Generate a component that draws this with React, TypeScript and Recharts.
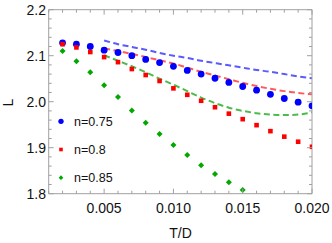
import { ComposedChart, Scatter, Line, XAxis, YAxis } from "recharts";

const T_POINTS = [0.002, 0.003, 0.004, 0.005, 0.006, 0.007, 0.008, 0.009, 0.01, 0.011, 0.012, 0.013, 0.014, 0.015, 0.016, 0.017, 0.018, 0.019, 0.02];
const L_075 = [2.128, 2.125, 2.12, 2.112, 2.107, 2.1, 2.092, 2.085, 2.077, 2.068, 2.06, 2.051, 2.042, 2.033, 2.025, 2.016, 2.007, 1.999, 1.991];
const L_080 = [2.125, 2.118, 2.108, 2.097, 2.086, 2.071, 2.058, 2.045, 2.029, 2.015, 2.002, 1.988, 1.974, 1.962, 1.949, 1.936, 1.924, 1.913, 1.902];
const L_085 = [2.11, 2.088, 2.064, 2.036, 2.01, 1.981, 1.954, 1.93, 1.906, 1.884, 1.862, 1.843, 1.825, 1.808];

const T_FIT = [0.005, 0.006, 0.007, 0.008, 0.009, 0.01, 0.011, 0.012, 0.013, 0.014, 0.015, 0.016, 0.017, 0.018, 0.019, 0.02];
const FIT_075 = [2.133, 2.125, 2.119, 2.113, 2.106, 2.1, 2.095, 2.089, 2.084, 2.079, 2.074, 2.069, 2.065, 2.06, 2.055, 2.051];
const FIT_080 = [2.116, 2.11, 2.104, 2.097, 2.09, 2.083, 2.074, 2.065, 2.057, 2.049, 2.041, 2.034, 2.028, 2.023, 2.019, 2.016];
const FIT_085 = [2.101, 2.089, 2.077, 2.064, 2.05, 2.037, 2.023, 2.009, 1.997, 1.987, 1.98, 1.975, 1.972, 1.971, 1.972, 1.977];

const X_TICKS = [0.001, 0.002, 0.003, 0.004, 0.005, 0.006, 0.007, 0.008, 0.009, 0.01, 0.011, 0.012, 0.013, 0.014, 0.015, 0.016, 0.017, 0.018, 0.019, 0.02];
const Y_TICKS = [1.8, 1.82, 1.84, 1.86, 1.88, 1.9, 1.92, 1.94, 1.96, 1.98, 2.0, 2.02, 2.04, 2.06, 2.08, 2.1, 2.12, 2.14, 2.16, 2.18, 2.2];

const LABELS = ["n=0.75", "n=0.8", "n=0.85"];
const DOT_COLORS = ["#0000ff", "#ff0000", "#00a800"];
const FIT_COLORS = ["#5a5aff", "#ff5a5a", "#4cbb4c"];

const AXIS = "#a0a0a0";
const FONT = "'Liberation Sans', Arial, sans-serif";

const toRows = (ts: number[], ls: number[]) => ls.map((L, i) => ({ t: ts[i], L }));

const dots = [toRows(T_POINTS, L_075), toRows(T_POINTS, L_080), toRows(T_POINTS, L_085)];
const fits = [toRows(T_FIT, FIT_075), toRows(T_FIT, FIT_080), toRows(T_FIT, FIT_085)];

const isMajorX = (v: number) => Math.abs(v * 200 - Math.round(v * 200)) < 1e-6;
const isMajorY = (v: number) => Math.abs(v * 10 - Math.round(v * 10)) < 1e-6;

function Marker({ kind, cx, cy, s = 1 }: { kind: number; cx: number; cy: number; s?: number }) {
  if (kind === 0) return <circle cx={cx} cy={cy} r={3.4 * s} fill={DOT_COLORS[0]} />;
  if (kind === 1) {
    const h = 2.3 * s;
    return <rect x={cx - h} y={cy - h} width={2 * h} height={2 * h} fill={DOT_COLORS[1]} />;
  }
  const d = 3 * s;
  return (
    <polygon
      points={`${cx},${cy - d} ${cx + d},${cy} ${cx},${cy + d} ${cx - d},${cy}`}
      fill={DOT_COLORS[2]}
    />
  );
}

function BottomTick(props: any) {
  const { x, y, payload } = props;
  const major = isMajorX(payload.value);
  return (
    <g>
      <line x1={x} x2={x} y1={y} y2={y - (major ? 5 : 3)} stroke={AXIS} />
      {major && (
        <text x={x} y={y + 19.3} textAnchor="middle" fontSize={14} fontFamily={FONT} fill="#111">
          {payload.value.toFixed(3)}
        </text>
      )}
    </g>
  );
}

function TopTick(props: any) {
  const { x, y, payload } = props;
  const major = isMajorX(payload.value);
  return <line x1={x} x2={x} y1={y} y2={y + (major ? 5 : 3)} stroke={AXIS} />;
}

function LeftTick(props: any) {
  const { x, y, payload } = props;
  const major = isMajorY(payload.value);
  return (
    <g>
      <line x1={x} x2={x + (major ? 5 : 3)} y1={y} y2={y} stroke={AXIS} />
      {major && (
        <text x={x - 2.7} y={y + 5} textAnchor="end" fontSize={14} fontFamily={FONT} fill="#111">
          {payload.value.toFixed(1)}
        </text>
      )}
    </g>
  );
}

function RightTick(props: any) {
  const { x, y, payload } = props;
  const major = isMajorY(payload.value);
  return <line x1={x} x2={x - (major ? 5 : 3)} y1={y} y2={y} stroke={AXIS} />;
}

export default function App() {
  return (
    <div style={{ position: "absolute", left: 0, top: 0, width: 332, height: 243, background: "#fff" }}>
      <ComposedChart width={332} height={243} margin={{ top: 0, right: 0, bottom: 0, left: 0 }}>
        <XAxis
          xAxisId="b"
          dataKey="t"
          type="number"
          domain={[0.001, 0.02]}
          allowDataOverflow
          ticks={X_TICKS}
          interval={0}
          tickSize={0}
          tickMargin={0}
          tickLine={false}
          axisLine={{ stroke: AXIS }}
          height={49.3}
          tick={BottomTick}
        />
        <XAxis
          xAxisId="t"
          orientation="top"
          dataKey="t"
          type="number"
          domain={[0.001, 0.02]}
          allowDataOverflow
          ticks={X_TICKS}
          interval={0}
          tickSize={0}
          tickMargin={0}
          tickLine={false}
          axisLine={{ stroke: AXIS }}
          height={9.7}
          tick={TopTick}
        />
        <YAxis
          yAxisId="l"
          dataKey="L"
          type="number"
          domain={[1.8, 2.2]}
          allowDataOverflow
          ticks={Y_TICKS}
          interval={0}
          tickSize={0}
          tickMargin={0}
          tickLine={false}
          axisLine={{ stroke: AXIS }}
          width={48.7}
          tick={LeftTick}
        />
        <YAxis
          yAxisId="r"
          orientation="right"
          dataKey="L"
          type="number"
          domain={[1.8, 2.2]}
          allowDataOverflow
          ticks={Y_TICKS}
          interval={0}
          tickSize={0}
          tickMargin={0}
          tickLine={false}
          axisLine={{ stroke: AXIS }}
          width={20}
          tick={RightTick}
        />
        {fits.map((rows, i) => (
          <Line
            key={`fit-${i}`}
            xAxisId="b"
            yAxisId="l"
            data={rows}
            dataKey="L"
            type="monotone"
            stroke={FIT_COLORS[i]}
            strokeWidth={2}
            strokeDasharray="6 3.5"
            dot={false}
            activeDot={false}
            isAnimationActive={false}
          />
        ))}
        {dots.map((rows, i) => (
          <Scatter
            key={`dots-${i}`}
            xAxisId="b"
            yAxisId="l"
            data={rows}
            dataKey="L"
            isAnimationActive={false}
            shape={(p: any) => <Marker kind={i} cx={p.cx} cy={p.cy} />}
          />
        ))}
      </ComposedChart>
      <svg
        width={332}
        height={243}
        style={{ position: "absolute", left: 0, top: 0, pointerEvents: "none" }}
        fontFamily={FONT}
      >
        {LABELS.map((label, i) => (
          <g key={label}>
            <Marker kind={i} cx={61} cy={121.3 + i * 28.2} s={0.78} />
            <text x={74} y={121.5 + i * 28.2 + 4.5} fontSize={12.5} fill="#111">
              {label}
            </text>
          </g>
        ))}
        <text x={180.5} y={238} textAnchor="middle" fontSize={14} fill="#111">
          T/D
        </text>
        <text
          x={0}
          y={0}
          transform="translate(13 102.5) rotate(-90)"
          textAnchor="middle"
          fontSize={14}
          fill="#111"
        >
          L
        </text>
      </svg>
    </div>
  );
}
